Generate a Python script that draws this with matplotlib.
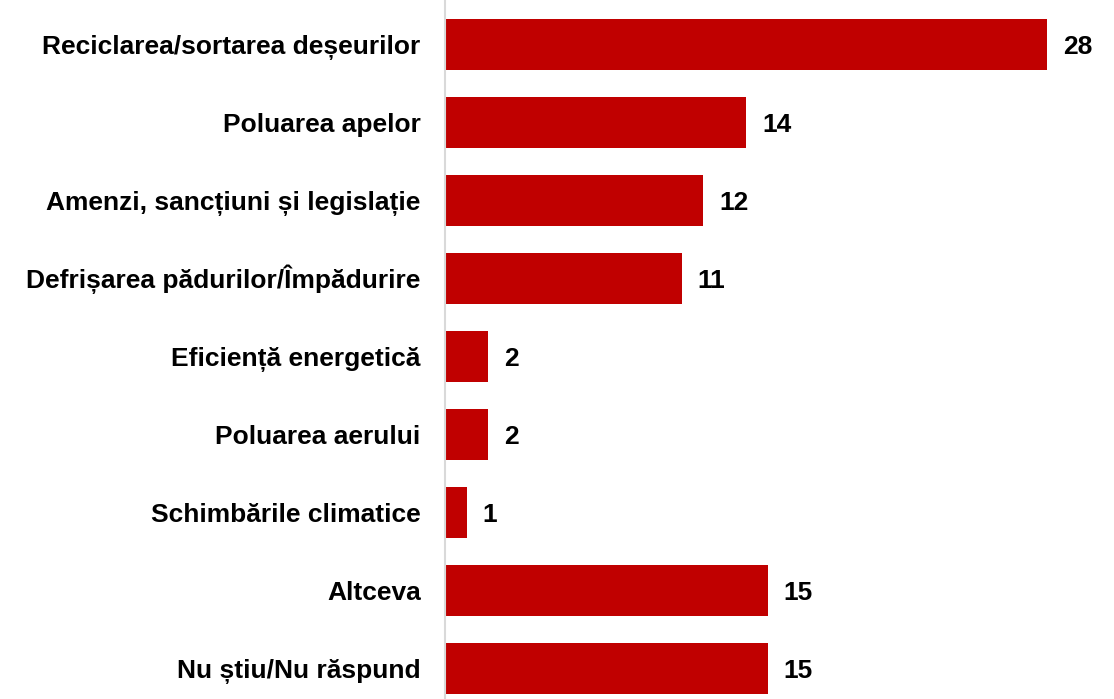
import matplotlib.pyplot as plt

categories = [
    "Reciclarea/sortarea deșeurilor",
    "Poluarea apelor",
    "Amenzi, sancțiuni și legislație",
    "Defrișarea pădurilor/Împădurire",
    "Eficiență energetică",
    "Poluarea aerului",
    "Schimbările climatice",
    "Altceva",
    "Nu știu/Nu răspund",
]
values = [28, 14, 12, 11, 2, 2, 1, 15, 15]

plt.rcParams['font.family'] = ['Liberation Sans', 'DejaVu Sans']
FS = 19

fig = plt.figure(figsize=(11.14, 6.99), dpi=100)
ax = fig.add_axes([445 / 1114, 0, 1 - 445 / 1114, 1])

pos = list(range(len(categories)))
ax.barh(pos, values, height=0.66, color="#C00000")

# etykiety kategorii i wartosci (wyrownane do linii bazowej)
for p, v, c in zip(pos, values, categories):
    ax.annotate(str(v), (v, p), xytext=(11.5, -6.8), textcoords="offset points",
                va="baseline", ha="left", fontsize=FS, fontweight="bold")
    ax.annotate(c, (0, p), xytext=(-17.5, -6.8), textcoords="offset points",
                va="baseline", ha="right", fontsize=FS, fontweight="bold",
                annotation_clip=False)

ax.set_xlim(0, 669 / 21.5)
ax.set_ylim(8.39, -0.57)
ax.set_xticks([])
ax.set_yticks([])
for s in ["top", "right", "bottom"]:
    ax.spines[s].set_visible(False)
ax.spines["left"].set_color("#d9d9d9")
ax.spines["left"].set_linewidth(1.5)

fig.savefig("out.png", dpi=100)
